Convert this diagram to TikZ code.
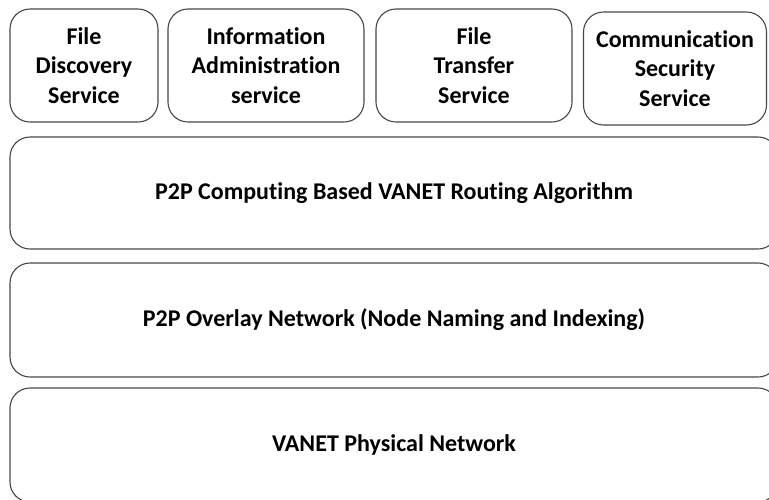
\documentclass[tikz,border=0pt]{standalone}
\usepackage{fontspec}
\setmainfont{Carlito}[Ligatures={NoCommon,NoRare,NoContextual}]
\begin{document}
\begin{tikzpicture}[x=1pt,y=-1pt,
  topbox/.style={draw=black!72, line width=1.1pt, rounded corners=20pt, fill=white, inner sep=0pt, align=center, font=\bfseries\fontsize{24}{29.5}\selectfont},
  layer/.style={draw=black!72, line width=1.1pt, rounded corners=20pt, fill=white, inner sep=0pt, align=center, font=\bfseries\fontsize{24}{28}\selectfont}]
\useasboundingbox (0,0) rectangle (769,499);
\clip (0,0) rectangle (769,499);
\node[topbox, minimum width=148pt, minimum height=113pt] (fds) at (84,65.5) {File\\Discovery\\Service};
\node[topbox, minimum width=196pt, minimum height=113pt] (ias) at (266,65.5) {Information\\Administration\\service};
\node[topbox, minimum width=196pt, minimum height=113pt] (fts) at (474,65.5) {File\\Transfer\\Service};
\node[topbox, minimum width=183pt, minimum height=113pt] (css) at (675,68.5) {Communication\\Security\\Service};
\node[layer, minimum width=768pt, minimum height=112pt] (alg) at (394,193) {P2P Computing Based VANET Routing Algorithm};
\node[layer, minimum width=768pt, minimum height=114pt] (ovl) at (394,320) {P2P Overlay Network (Node Naming and Indexing)};
\node[layer, minimum width=768pt, minimum height=114pt] (phy) at (394,445) {VANET Physical Network};
\end{tikzpicture}
\end{document}
